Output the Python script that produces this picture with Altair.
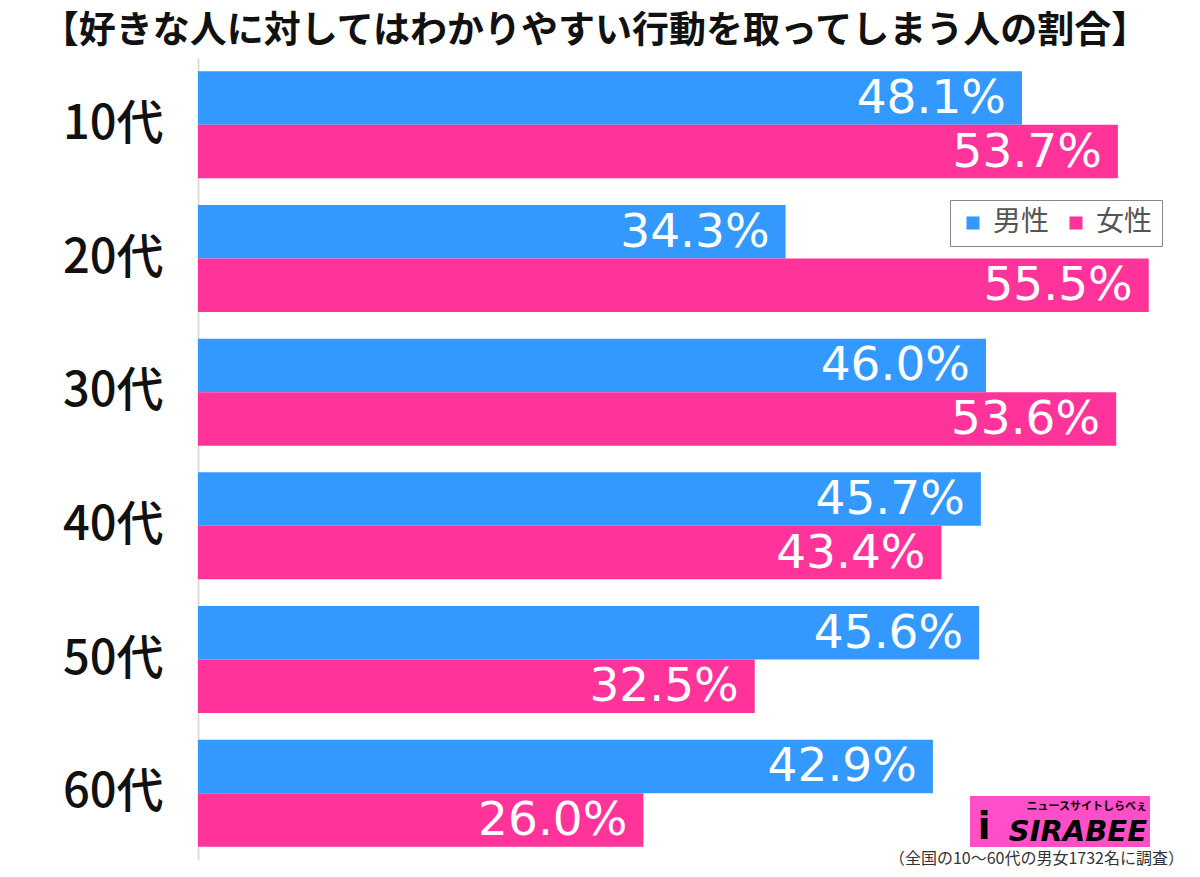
import altair as alt
import pandas as pd

ages = ["10代", "20代", "30代", "40代", "50代", "60代"]
genders = ["男性", "女性"]
male = [48.1, 34.3, 46.0, 45.7, 45.6, 42.9]
female = [53.7, 55.5, 53.6, 43.4, 32.5, 26.0]
colors = ["#3399FF", "#FF3399"]

title_text = "【好きな人に対してはわかりやすい行動を取ってしまう人の割合】"
footnote_text = "（全国の10〜60代の男女1732名に調査）"

rows = []
for a, m, f in zip(ages, male, female):
    rows.append({"age": a, "gender": genders[0], "value": m})
    rows.append({"age": a, "gender": genders[1], "value": f})
df = pd.DataFrame(rows)

FONT = "Noto Sans CJK JP"
W, H = 985, 802

base = alt.Chart(df).transform_calculate(
    label="format(datum.value, '.1f') + '%'"
).encode(
    y=alt.Y("age:N", sort=ages,
            scale=alt.Scale(paddingInner=0.2, paddingOuter=0.1),
            axis=alt.Axis(title=None, ticks=False, labelFontSize=47, labelColor="#111",
                          labelFont=FONT, labelFontWeight=500, labelPadding=35,
                          domainColor="#dddddd", domainWidth=2)),
    yOffset=alt.YOffset("gender:N", sort=genders, scale=alt.Scale(paddingInner=0, paddingOuter=0)),
)

bars = base.mark_bar(stroke=None).encode(
    x=alt.X("value:Q", scale=alt.Scale(domain=[0, 57.5], nice=False, zero=True), axis=None),
    color=alt.Color("gender:N", sort=genders,
                    scale=alt.Scale(domain=genders, range=colors),
                    legend=alt.Legend(title=None, orient="none", legendX=752, legendY=142,
                                      direction="horizontal", symbolType="square",
                                      symbolSize=170, symbolStrokeWidth=0,
                                      labelFontSize=28, labelColor="#555555", labelFont=FONT,
                                      strokeColor="#888888", fillColor="white", padding=9,
                                      columnPadding=12, labelOffset=6)),
)

labels = base.mark_text(align="right", baseline="middle", dx=-16, dy=1, color="white",
                        fontSize=47, font="DejaVu Sans").encode(
    x=alt.X("value:Q"),
    text="label:N",
)

annot = pd.DataFrame({"t": [title_text]})
title = alt.Chart(annot).mark_text(fontSize=37, fontWeight="bold", font=FONT, color="#111",
                                   align="center", baseline="middle").encode(
    x=alt.value(397), y=alt.value(-26), text="t:N")

foot = alt.Chart(pd.DataFrame({"t": [footnote_text]})).mark_text(
    fontSize=16, font=FONT, color="#333", align="right", baseline="middle").encode(
    x=alt.value(986), y=alt.value(801), text="t:N")

logo_box = alt.Chart(pd.DataFrame({"t": ["SIRABEE"]})).mark_rect(color="#FF4FC8").encode(
    x=alt.value(772), x2=alt.value(952), y=alt.value(738), y2=alt.value(789))
logo_text = alt.Chart(pd.DataFrame({"t": ["SIRABEE"]})).mark_text(
    fontSize=29, fontWeight="bold", fontStyle="italic", font="DejaVu Sans", color="black",
    align="right", baseline="alphabetic").encode(
    x=alt.value(949), y=alt.value(783), text="t:N")
logo_sub = alt.Chart(pd.DataFrame({"t": ["ニュースサイトしらべぇ"]})).mark_text(
    fontSize=11, fontWeight="bold", font=FONT, color="black",
    align="right", baseline="middle").encode(
    x=alt.value(949), y=alt.value(749), text="t:N")
logo_i = alt.Chart(pd.DataFrame({"t": ["i"]})).mark_text(
    fontSize=37, fontWeight="bold", font="DejaVu Sans", color="black",
    align="center", baseline="alphabetic").encode(
    x=alt.value(786), y=alt.value(781), text="t:N")

chart = alt.layer(bars, labels, title, foot, logo_box, logo_text, logo_sub, logo_i).properties(
    width=W, height=H,
    autosize=alt.AutoSizeParams(type="none"),
    padding={"left": 190, "top": 50, "right": 9, "bottom": 9},
).configure_view(stroke=None)

chart.save("out.html", embed_options={"renderer": "svg", "actions": False})
